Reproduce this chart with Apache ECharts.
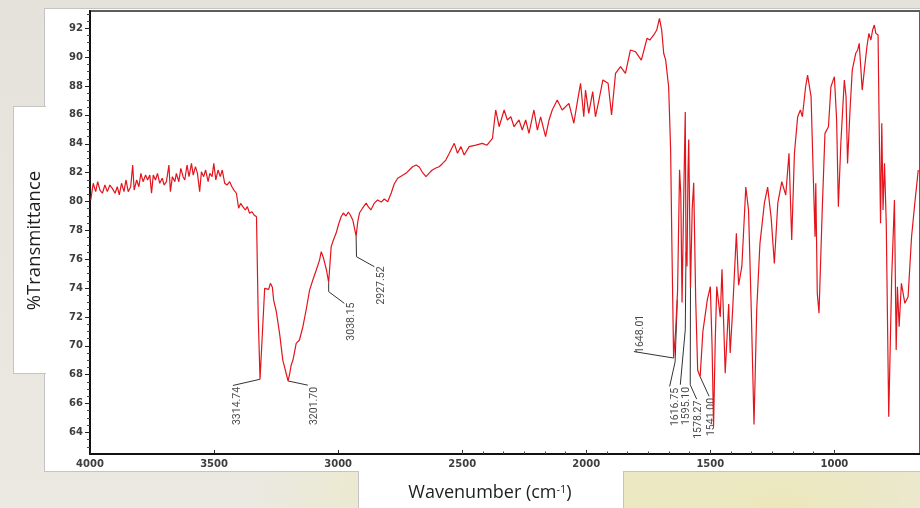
<!DOCTYPE html>
<html lang="en">
<head>
<meta charset="UTF-8">
<title>FTIR spectrum</title>
<style>
  html, body { margin: 0; padding: 0; }
  body {
    width: 920px; height: 508px; overflow: hidden; position: relative;
    background:
      radial-gradient(ellipse at 55% 100%, rgba(238,232,168,0.7), rgba(238,232,168,0) 36%),
      radial-gradient(ellipse at 85% 100%, rgba(236,230,160,0.6), rgba(236,230,160,0) 26%),
      linear-gradient(#e4e2da, #ebe9e2);
  }
  .panel { position: absolute; background: #fff; border: 1px solid #c4c4c4; box-sizing: border-box; }
  #chart { position: absolute; left: 0; top: 0; width: 920px; height: 508px; }
</style>
</head>
<body>
<div class="panel" style="left:44px;top:8px;width:890px;height:464px"></div>
<div class="panel" style="left:13px;top:106px;width:33px;height:268px;border-right:none"></div>
<div class="panel" style="left:358px;top:471px;width:266px;height:45px;border-top:none"></div>
<div id="chart"></div>

<script src="https://cdn.jsdelivr.net/npm/echarts@6/dist/echarts.min.js"></script>
<script>
// spectrum: [wavenumber cm-1, %T]
var seg4000 = [[3997,80.10],[3987,81.26],[3977,80.68],[3969,81.37],[3960,80.79],[3950,80.57],[3940,81.14],[3930,80.68],[3920,81.14],[3910,80.91],[3899,80.57],[3890,81.02],[3882,80.45],[3873,81.26],[3863,80.68],[3855,81.49],[3846,80.68],[3836,81.02],[3828,82.53],[3822,80.79],[3812,81.49],[3803,81.02],[3795,81.95],[3786,81.37],[3776,81.83],[3768,81.49],[3759,81.83],[3752,80.57],[3745,81.83],[3736,81.49],[3728,81.95],[3719,81.26],[3709,81.61],[3701,81.14],[3692,81.37],[3682,82.53],[3676,80.68],[3668,81.72],[3658,81.37],[3652,81.95],[3642,81.37],[3634,82.30],[3625,81.72],[3618,81.49],[3609,82.53],[3601,81.72],[3591,82.64],[3584,81.83],[3575,82.41],[3567,81.95],[3558,80.68],[3551,82.06],[3542,81.72],[3534,82.18],[3524,81.37],[3517,81.95],[3508,81.72],[3501,82.64],[3493,81.49],[3484,82.18],[3475,81.72],[3467,82.18],[3457,81.26],[3448,81.14],[3437,81.37],[3428,81.02],[3420,80.79],[3410,80.57],[3401,79.53],[3393,79.87],[3384,79.64],[3374,79.41],[3366,79.64],[3357,79.18],[3347,79.29],[3339,79.06],[3334,79.06],[3329,78.94]];
var seg3300 = [[3322,72.0],[3314.74,67.68],[3296,73.98],[3289,74.02],[3280,73.91],[3273,74.33],[3265,74.05],[3260,73.17],[3249,72.36],[3236,70.86],[3223,69.01],[3201.70,67.56],[3195,68.09],[3189,68.67],[3182,69.01],[3169,70.17],[3156,70.40],[3142,71.32],[3129,72.48],[3115,73.86],[3102,74.56],[3088,75.25],[3075,75.94],[3068,76.52],[3059,76.08],[3047,75.25],[3038.15,74.4],[3028,76.87],[3019,77.33],[3008,77.81],[2999,78.37],[2988,78.94],[2979,79.20],[2968,78.99],[2959,79.27],[2951,79.06],[2941,78.72],[2927.52,77.6],[2921,78.58],[2914,79.20],[2901,79.55]];
var seg2900 = [[2887,79.89],[2878,79.62],[2868,79.41],[2854,79.89],[2841,80.10],[2826,79.96],[2814,80.17],[2800,79.98],[2786,80.59],[2774,81.21],[2760,81.61],[2745,81.76],[2727,81.95],[2713,82.18],[2701,82.39],[2686,82.53],[2673,82.39],[2661,82.04],[2646,81.72],[2633,81.97],[2621,82.18],[2606,82.32],[2593,82.41],[2581,82.60],[2566,82.87],[2552,83.34],[2532,84.03],[2519,83.34],[2505,83.80],[2492,83.22],[2472,83.80],[2445,83.91],[2419,84.03],[2400,83.9],[2378,84.38],[2365,86.34],[2351,85.18],[2331,86.34],[2318,85.65],[2304,85.87],[2291,85.18],[2271,85.65],[2258,84.95],[2244,85.65],[2231,84.72],[2211,86.34],[2197,84.95],[2184,85.87],[2164,84.49],[2150,85.65],[2137,86.34],[2117,87.03],[2097,86.34],[2070,86.80],[2050,85.42],[2037,86.80],[2023,88.19],[2010,85.87],[2003,87.72],[1990,86.11],[1974,87.61],[1963,85.87],[1949,87.03],[1933,88.42],[1912,88.19],[1898,85.99],[1882,88.88],[1862,89.34],[1842,88.88],[1822,90.50],[1802,90.38],[1778,89.80],[1755,91.31],[1744,91.19],[1728,91.54],[1716,91.88]];
var seg1700 = [[1705,92.69],[1696,91.88],[1688,90.27],[1680,89.80],[1668,87.95],[1660,83.57],[1655,77.12],[1648.01,69.15],[1640,71.0],[1632,73.8],[1624,82.2],[1619,80.5],[1614,73.0],[1607,80.5],[1601,86.2],[1598,76.5],[1594,75.5],[1590,82.0],[1587,84.3],[1583,78.5],[1580,74.0],[1573,79.5],[1567,81.3],[1559,73.2],[1551,68.3],[1541,67.85],[1530,71.0],[1512,73.2],[1500,74.1],[1493,70.0],[1487,64.4],[1480,70.5],[1474,74.1],[1460,72.0],[1453,75.3],[1440,68.1],[1426,72.9],[1420,69.5],[1410,72.5],[1395,77.8],[1386,74.2],[1373,75.5],[1357,81.0],[1346,79.4],[1335,72.5],[1324,64.55],[1313,72.5],[1300,77.1],[1282,79.9],[1269,81.0],[1255,78.9],[1242,75.7],[1228,79.9]];
var seg1200 = [[1212,81.37],[1196,80.45],[1183,83.34],[1172,77.33],[1161,83.36],[1148,85.87],[1137,86.34],[1129,85.87],[1116,87.95],[1108,88.76],[1094,87.26],[1085,81.72],[1078,77.56],[1075,81.26],[1069,73.64],[1062,72.25],[1049,79.41],[1038,84.72],[1024,85.18],[1014,87.95],[1000,88.65],[991,85.65],[984,79.64],[974,84.03],[960,88.42],[953,87.26],[947,82.64],[937,86.34],[928,89.11],[914,90.27],[906,90.50],[900,90.96],[893,89.11],[888,87.72],[880,88.99],[869,90.72],[861,91.65],[853,91.19],[846,91.88],[839,92.23],[833,91.65],[824,91.54],[820,85.87],[814,78.49],[809,85.42],[804,79.41],[798,82.64],[791,78.49],[781,65.08],[769,74.79],[758,80.10],[751,69.71],[746,74.09],[739,71.32],[730,74.33],[716,72.94],[703,73.40],[689,77.56],[676,79.87],[662,82.18]];

// peak annotations: label text, leader path [wn, %T], label anchor [wn, %T]
var peakNames = ['3314.74', '3201.70', '3038.15', '2927.52', '1648.01', '1616.75', '1595.10', '1578.27', '1541.00'];
var peakLeaders = [
  [[3314.74,67.68],[3424,67.25]],
  [[3201.70,67.56],[3122,67.27]],
  [[3038.15,74.4],[3038,73.75],[2975,72.94]],
  [[2927.52,77.6],[2926,76.17],[2854,75.48]],
  [[1648.01,69.15],[1808,69.6]],
  [[1633,73.2],[1642,68.88],[1664,67.18]],
  [[1598,76.5],[1601,71.1],[1621,67.3]],
  [[1580,74.0],[1581,67.3],[1555,66.3]],
  [[1541,67.85],[1505,66.5]]
];
var peakAnchors = [[3406,67.15],[3095,67.15],[2948,73.0],[2827,75.5],[1782,69.5],[1641,67.08],[1596,67.15],[1547,66.2],[1497,66.39]];

var xTickLabels = [4000, 3500, 3000, 2500, 2000, 1500, 1000];
var yTickLabels = [64, 66, 68, 70, 72, 74, 76, 78, 80, 82, 84, 86, 88, 90, 92];

var spectrum = seg4000.concat(seg3300, seg2900, seg1700, seg1200);

var xMinor = [];
for (var i = 0; i <= 18; i++) xMinor.push(1000 + i * 500 / 6);
var yMinor = [];
for (var v = 63; v <= 93; v += 0.5) if (v % 2 !== 0) yMinor.push(v);

var tickFont = { fontFamily: 'DejaVu Sans', fontSize: 10, fontWeight: 'bold', color: '#3d3d3d',
  formatter: function (val) { return String(val); } };

var series = [{
  type: 'line', data: spectrum, symbol: 'none', z: 4,
  lineStyle: { color: '#e3141c', width: 1.2 }
}];
peakLeaders.forEach(function (p) {
  series.push({ type: 'line', data: p, symbol: 'none', z: 3, silent: true,
    lineStyle: { color: '#333', width: 1 } });
});
series.push({
  type: 'scatter', symbolSize: 1, silent: true, z: 3,
  itemStyle: { color: 'rgba(0,0,0,0)' },
  data: peakNames.map(function (n, i) {
    return { name: n, value: peakAnchors[i],
      label: { align: n === '1648.01' ? 'left' : 'right' } };
  }),
  label: { show: true, position: 'inside', formatter: '{b}', rotate: 90, verticalAlign: 'middle',
    fontFamily: "'Liberation Sans Narrow', 'Arial Narrow', Roboto, sans-serif", fontSize: 10.5, color: '#151515' }
});

var chart = echarts.init(document.getElementById('chart'));
chart.setOption({
  animation: false,
  grid: { left: 90, right: -2, top: 11, bottom: 54, show: true, borderColor: '#5c5c5c', borderWidth: 2 },
  xAxis: [{
    type: 'value', inverse: true, min: 655, max: 4000, position: 'bottom',
    axisLine: { onZero: false, lineStyle: { color: '#111', width: 2 } },
    axisTick: { inside: true, length: 4, customValues: xTickLabels, lineStyle: { color: '#222' } },
    axisLabel: Object.assign({ customValues: xTickLabels, margin: 5 }, tickFont),
    splitLine: { show: false }
  }, {
    type: 'value', inverse: true, min: 655, max: 4000, position: 'bottom',
    axisLine: { show: false },
    axisTick: { inside: true, length: 2.5, customValues: xMinor, lineStyle: { color: '#444' } },
    axisLabel: { show: false, customValues: xMinor },
    splitLine: { show: false }
  }],
  yAxis: [{
    type: 'value', min: 62.5, max: 93.2, position: 'left',
    axisLine: { show: true, onZero: false, lineStyle: { color: '#111', width: 2 } },
    axisTick: { show: true, length: 5, customValues: yTickLabels, lineStyle: { color: '#222' } },
    axisLabel: Object.assign({ customValues: yTickLabels, margin: 7 }, tickFont),
    splitLine: { show: false }
  }, {
    type: 'value', min: 62.5, max: 93.2, position: 'left',
    axisLine: { show: false },
    axisTick: { show: true, length: 3, customValues: yMinor, lineStyle: { color: '#444' } },
    axisLabel: { show: false, customValues: yMinor },
    splitLine: { show: false }
  }],
  graphic: [{
    type: 'text', x: 35, y: 240.5, rotation: Math.PI / 2,
    style: { text: '%Transmittance', fontFamily: 'Open Sans', fontSize: 18.5, fill: '#1e1e1e',
      align: 'center', verticalAlign: 'middle' }
  }, {
    type: 'text', x: 490, y: 493,
    style: { text: '{a|Wavenumber (cm}{s|-1}{a|)}', align: 'center', verticalAlign: 'middle',
      rich: {
        a: { fontFamily: 'Open Sans', fontSize: 18, fill: '#1e1e1e' },
        s: { fontFamily: 'Open Sans', fontSize: 11, fill: '#1e1e1e', verticalAlign: 'top' }
      } }
  }],
  series: series
});
</script>
</body>
</html>
